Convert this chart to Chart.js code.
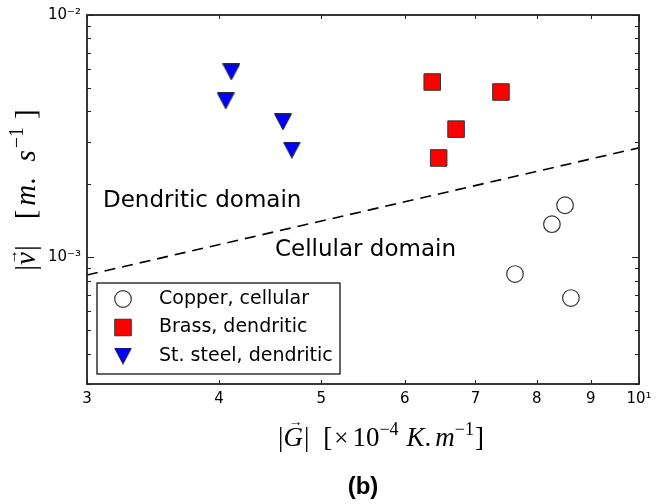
<!DOCTYPE html>
<html>
<head>
<meta charset="utf-8">
<script src="https://cdn.jsdelivr.net/npm/chart.js@4.4.1/dist/chart.umd.min.js"></script>
<style>
  html, body { margin: 0; padding: 0; background: #fff; }
  #wrap { width: 660px; height: 504px; }
</style>
</head>
<body>
<div id="wrap"><canvas id="chart" width="660" height="504"></canvas></div>
<script>
// --- data: growth velocity |v| vs thermal gradient |G| ---
const copperG = [8.51, 8.27, 7.63, 8.62];
const copperV = [1.64e-3, 1.37e-3, 8.53e-4, 6.79e-4];

const brassG = [6.37, 7.40, 6.71, 6.46];
const brassV = [5.29e-3, 4.81e-3, 3.38e-3, 2.57e-3];

const steelG = [4.11, 4.06, 4.60, 4.69];
const steelV = [5.82e-3, 4.42e-3, 3.62e-3, 2.77e-3];

// dendritic / cellular boundary
const boundaryG = [3, 10];
const boundaryV = [8.45e-4, 2.83e-3];

const seriesNames = ['Copper, cellular', 'Brass, dendritic', 'St. steel, dendritic'];
const domainLabels = ['Dendritic domain', 'Cellular domain'];

const xTicks = [3, 4, 5, 6, 7, 8, 9, 10];
const xTickLabels = ['3', '4', '5', '6', '7', '8', '9', '10¹'];
const yTicks = [1e-3, 1e-2];
const yTickLabels = ['10⁻³', '10⁻²'];
const yMinorTicks = [3e-4, 4e-4, 5e-4, 6e-4, 7e-4, 8e-4, 9e-4,
                     2e-3, 3e-3, 4e-3, 5e-3, 6e-3, 7e-3, 8e-3, 9e-3];

const toPoints = (xs, ys) => xs.map((x, i) => ({ x, y: ys[i] }));

// matplotlib-style down triangle, centred on its bounding box
function makeTriangle(w, h) {
  const c = document.createElement('canvas');
  c.width = w; c.height = h;
  const g = c.getContext('2d');
  g.beginPath();
  g.moveTo(0.6, 0.6);
  g.lineTo(w - 0.6, 0.6);
  g.lineTo(w / 2, h - 0.6);
  g.closePath();
  g.fillStyle = '#0000ff';
  g.fill();
  g.lineWidth = 1;
  g.strokeStyle = '#222';
  g.stroke();
  return c;
}
const triangle = makeTriangle(18, 17);

const markerStyles = [
  { pointStyle: 'circle', radius: 8.3, backgroundColor: 'rgba(255,255,255,0)', borderColor: '#333', borderWidth: 1.2 },
  { pointStyle: 'rect', radius: 11.7, backgroundColor: '#ff0000', borderColor: '#333', borderWidth: 1 },
  { pointStyle: triangle, radius: 9, backgroundColor: '#0000ff', borderColor: '#222', borderWidth: 1 },
];

function drawRuns(ctx, runs, cx, baseline) {
  let total = 0;
  runs.forEach(r => {
    ctx.font = r.font;
    r.w = ctx.measureText(r.t).width + (r.gap || 0);
    total += r.w;
  });
  let x = cx - total / 2;
  ctx.textAlign = 'left';
  ctx.textBaseline = 'alphabetic';
  runs.forEach(r => {
    ctx.font = r.font;
    ctx.fillText(r.t, x, baseline + (r.dy || 0));
    if (r.accent) {
      ctx.font = r.accentFont;
      ctx.textAlign = 'center';
      ctx.fillText(r.accent, x + r.w / 2 + (r.ax || 0), baseline + r.ay);
      ctx.textAlign = 'left';
    }
    x += r.w;
  });
}

const MATH = '"Liberation Serif", "DejaVu Serif", serif';
const SANS = '"DejaVu Sans", sans-serif';

const overlay = {
  id: 'overlay',
  afterDraw(chart) {
    const { ctx, chartArea: a, scales } = chart;
    const xs = scales.x, ys = scales.y;
    ctx.save();

    // frame
    ctx.strokeStyle = '#222';
    ctx.lineWidth = 1.8;
    ctx.strokeRect(a.left, a.top, a.right - a.left, a.bottom - a.top);

    // inward ticks on all four sides
    ctx.lineWidth = 1;
    ctx.beginPath();
    xTicks.forEach(v => {
      const px = Math.round(xs.getPixelForValue(v)) + 0.5;
      const len = v === 10 ? 7 : 4;
      ctx.moveTo(px, a.bottom); ctx.lineTo(px, a.bottom - len);
      ctx.moveTo(px, a.top); ctx.lineTo(px, a.top + len);
    });
    yTicks.concat(yMinorTicks).forEach(v => {
      const py = Math.round(ys.getPixelForValue(v)) + 0.5;
      const len = yTicks.includes(v) ? 7 : 4;
      ctx.moveTo(a.left, py); ctx.lineTo(a.left + len, py);
      ctx.moveTo(a.right, py); ctx.lineTo(a.right - len, py);
    });
    ctx.stroke();

    // domain annotations
    ctx.fillStyle = '#000';
    ctx.font = '23px ' + SANS;
    ctx.textAlign = 'left';
    ctx.textBaseline = 'middle';
    ctx.fillText(domainLabels[0], 103, 201);
    ctx.fillText(domainLabels[1], 275, 250);

    // legend
    const lx = 97, ly = 283, lw = 243, lh = 91;
    ctx.fillStyle = '#fff';
    ctx.fillRect(lx, ly, lw, lh);
    ctx.strokeStyle = '#000';
    ctx.lineWidth = 1.2;
    ctx.strokeRect(lx, ly, lw, lh);
    const rows = [299, 327.5, 356];
    seriesNames.forEach((name, i) => {
      const m = markerStyles[i];
      ctx.fillStyle = m.backgroundColor;
      ctx.strokeStyle = m.borderColor;
      ctx.lineWidth = m.borderWidth;
      Chart.helpers.drawPoint(ctx, {
        pointStyle: m.pointStyle, radius: m.radius, rotation: 0, borderWidth: m.borderWidth
      }, 123, rows[i]);
      ctx.fillStyle = '#000';
      ctx.font = '19px ' + SANS;
      ctx.textAlign = 'left';
      ctx.textBaseline = 'middle';
      ctx.fillText(name, 159, rows[i]);
    });

    // axis titles
    ctx.fillStyle = '#000';
    const f = s => s + 'px ' + MATH;
    const fi = s => 'italic ' + s + 'px ' + MATH;
    drawRuns(ctx, [
      { t: '|', font: f(27) },
      { t: 'G', font: fi(27), gap: 1, accent: '→', accentFont: f(14), ay: -20, ax: 2 },
      { t: '|', font: f(27), gap: 14 },
      { t: '[', font: f(27), gap: 2 },
      { t: '×', font: f(25), gap: 4 },
      { t: '10', font: f(27) },
      { t: '−4', font: f(18), dy: -11, gap: 8 },
      { t: 'K', font: fi(27) },
      { t: '.', font: f(27), gap: 4 },
      { t: 'm', font: fi(27) },
      { t: '−1', font: f(18), dy: -11, gap: 1 },
      { t: ']', font: f(27) },
    ], 381, 446);

    ctx.save();
    ctx.translate(26, 190);
    ctx.rotate(-Math.PI / 2);
    drawRuns(ctx, [
      { t: '|', font: f(29) },
      { t: 'v', font: fi(29), gap: 1, accent: '→', accentFont: f(15), ay: -18, ax: 1 },
      { t: '|', font: f(29), gap: 26 },
      { t: '[', font: f(29), gap: 4 },
      { t: 'm', font: fi(29) },
      { t: '.', font: f(29), gap: 16 },
      { t: 's', font: fi(29), gap: 2 },
      { t: '−1', font: f(20), dy: -12, gap: 8 },
      { t: ']', font: f(29) },
    ], 0, 9);
    ctx.restore();

    // panel tag
    ctx.font = 'bold 24px "Liberation Sans", Arial, sans-serif';
    ctx.textAlign = 'center';
    ctx.textBaseline = 'middle';
    ctx.fillText('(b)', 363, 487);

    ctx.restore();
  }
};

new Chart(document.getElementById('chart'), {
  type: 'scatter',
  data: {
    datasets: [
      {
        label: 'boundary',
        type: 'line',
        data: toPoints(boundaryG, boundaryV),
        borderColor: '#000',
        borderWidth: 1.6,
        borderDash: [11, 7],
        pointRadius: 0,
        fill: false,
        tension: 0,
      },
      {
        label: seriesNames[0], data: toPoints(copperG, copperV),
        pointStyle: markerStyles[0].pointStyle, pointRadius: markerStyles[0].radius,
        backgroundColor: markerStyles[0].backgroundColor, borderColor: markerStyles[0].borderColor,
        borderWidth: markerStyles[0].borderWidth,
      },
      {
        label: seriesNames[1], data: toPoints(brassG, brassV),
        pointStyle: markerStyles[1].pointStyle, pointRadius: markerStyles[1].radius,
        backgroundColor: markerStyles[1].backgroundColor, borderColor: markerStyles[1].borderColor,
        borderWidth: markerStyles[1].borderWidth,
      },
      {
        label: seriesNames[2], data: toPoints(steelG, steelV),
        pointStyle: markerStyles[2].pointStyle, pointRadius: markerStyles[2].radius,
        backgroundColor: markerStyles[2].backgroundColor, borderColor: markerStyles[2].borderColor,
        borderWidth: markerStyles[2].borderWidth,
      },
    ]
  },
  options: {
    responsive: false,
    animation: false,
    layout: { padding: { top: 15, right: 21, left: 0, bottom: 0 } },
    plugins: {
      legend: { display: false },
      tooltip: { enabled: false },
    },
    scales: {
      x: {
        type: 'logarithmic',
        min: 3,
        max: 10,
        afterBuildTicks: scale => { scale.ticks = xTicks.map(v => ({ value: v })); },
        afterFit: scale => { scale.height = 120; },
        grid: { display: false, drawTicks: false },
        border: { display: false },
        ticks: {
          autoSkip: false,
          maxRotation: 0,
          padding: 6,
          color: '#000',
          font: { family: 'DejaVu Sans', size: 15 },
          callback: (v, i) => xTickLabels[i],
        },
      },
      y: {
        type: 'logarithmic',
        min: 3e-4,
        max: 1e-2,
        afterBuildTicks: scale => { scale.ticks = yTicks.map(v => ({ value: v })); },
        afterFit: scale => { scale.width = 87; },
        grid: { display: false, drawTicks: false },
        border: { display: false },
        ticks: {
          autoSkip: false,
          padding: 6,
          color: '#000',
          font: { family: 'DejaVu Sans', size: 15 },
          callback: (v, i) => yTickLabels[i],
        },
      },
    },
  },
  plugins: [overlay],
});
</script>
</body>
</html>
